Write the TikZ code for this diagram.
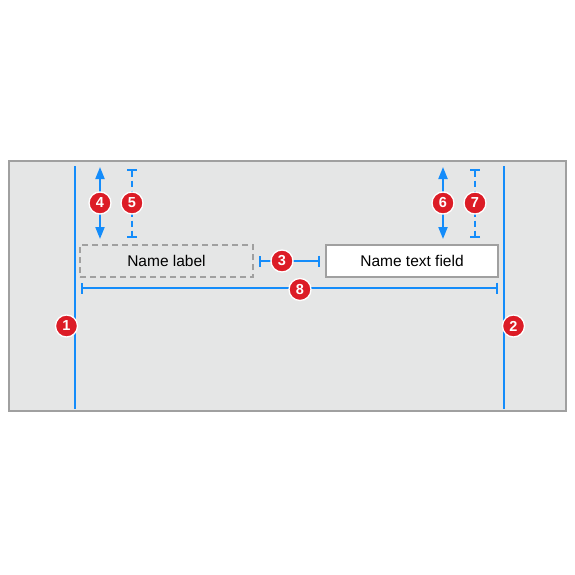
\documentclass[tikz,border=0pt]{standalone}
\usepackage{fontspec}
\setmainfont{Liberation Sans}
\usepackage{tikz}
\usetikzlibrary{arrows.meta}

\definecolor{guideblue}{RGB}{20,140,250}
\definecolor{badgered}{RGB}{220,28,38}
\definecolor{viewgray}{RGB}{229,230,230}
\definecolor{edgegray}{RGB}{160,160,160}

\tikzset{
  viewframe/.style={draw=edgegray, line width=2pt, fill=viewgray, inner sep=0pt},
  guide/.style={draw=guideblue, line width=2pt},
  spacer/.style={guide, {Bar[width=11pt]}-{Bar[width=11pt]}},
  dashspacer/.style={guide, dash pattern=on 6pt off 4pt, {Bar[width=10pt]}-{Bar[width=10pt]}},
  margin/.style={guide, {Triangle[length=12pt,width=9pt]}-{Triangle[length=12pt,width=9pt]}},
  labelbox/.style={draw=edgegray, line width=2pt, dash pattern=on 6pt off 4pt,
    minimum width=173pt, minimum height=32pt, font=\fontsize{15.5}{18}\selectfont},
  fieldbox/.style={draw=edgegray, line width=2pt, fill=white,
    minimum width=172pt, minimum height=32pt, font=\fontsize{15.5}{18}\selectfont},
  badge/.style={circle, fill=badgered, draw=white, line width=1.3pt, inner sep=0pt,
    minimum size=22pt, text=white, font=\fontsize{14.5}{15}\selectfont\bfseries}
}

\begin{document}
\begin{tikzpicture}[x=1pt,y=-1pt]
\useasboundingbox[fill=white] (0,0) rectangle (575,575);

% superview
\node[viewframe, minimum width=557pt, minimum height=250pt] (view) at (287.5,286) {};

% leading and trailing edges
\coordinate (leadtop) at (75,166);
\coordinate (leadbot) at (75,409);
\coordinate (trailtop) at (504,166);
\coordinate (trailbot) at (504,409);
\draw[guide] (leadtop) -- (leadbot);
\draw[guide] (trailtop) -- (trailbot);

% the two views
\node[labelbox] (namelabel) at (166.5,261) {Name label};
\node[fieldbox] (textfield) at (412,261) {Name text field};

% spacing between label and field
\draw[spacer] ([xshift=5pt]namelabel.east) -- ([xshift=-5pt]textfield.west);
% widths
\draw[spacer] ([xshift=1.5pt,yshift=-10pt]namelabel.south west) -- ([xshift=-1pt,yshift=-10pt]textfield.south east);

% top margins
\coordinate (labeltop) at (100,167);
\coordinate (labelgap) at (132,169);
\coordinate (fieldtop) at (443,167);
\coordinate (fieldgap) at (475,169);
\draw[margin] (labeltop) -- ([yshift=5pt]labeltop |- namelabel.north);
\draw[dashspacer] (labelgap) -- ([yshift=6pt]labelgap |- namelabel.north);
\draw[margin] (fieldtop) -- ([yshift=5pt]fieldtop |- textfield.north);
\draw[dashspacer] (fieldgap) -- ([yshift=6pt]fieldgap |- textfield.north);

% callouts
\node[badge] (b1) at (66.5,326) {1};
\node[badge] (b2) at (513.5,326) {2};
\node[badge] (b3) at (282,261) {3};
\node[badge] (b4) at (100,203) {4};
\node[badge] (b5) at (132,203) {5};
\node[badge] (b6) at (443,203) {6};
\node[badge] (b7) at (475,203) {7};
\node[badge] (b8) at (300,289.5) {8};
\end{tikzpicture}
\end{document}
